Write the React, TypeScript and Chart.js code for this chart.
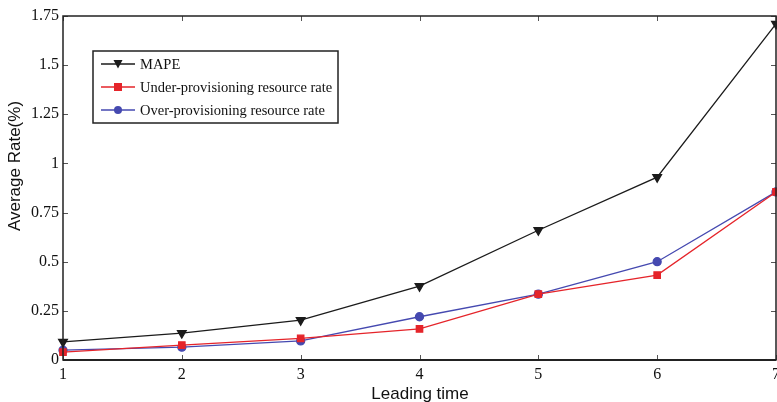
import React, { useEffect, useRef } from "react";
import { Chart, registerables } from "chart.js";

Chart.register(...registerables);

const leadingTimes = [1, 2, 3, 4, 5, 6, 7];
const mape = [0.092, 0.137, 0.203, 0.376, 0.66, 0.93, 1.71];
const underRate = [0.04, 0.076, 0.11, 0.158, 0.335, 0.432, 0.855];
const overRate = [0.05, 0.065, 0.097, 0.22, 0.335, 0.5, 0.855];
const yTicks = [0, 0.25, 0.5, 0.75, 1, 1.25, 1.5, 1.75];
const seriesNames = ["MAPE", "Under-provisioning resource rate", "Over-provisioning resource rate"];

const BLACK = "#1b1b1b";
const RED = "#e5242a";
const BLUE = "#4549b0";

const framePlugin = {
  id: "frame",
  afterDraw(chart: any) {
    const { ctx, chartArea: a, scales } = chart;
    const xs = scales.x;
    const ys = scales.y;
    ctx.save();
    // inward ticks
    ctx.strokeStyle = "#555";
    ctx.lineWidth = 1;
    const tl = 5;
    leadingTimes.forEach((v) => {
      const px = Math.round(xs.getPixelForValue(v)) + 0.5;
      ctx.beginPath();
      ctx.moveTo(px, a.bottom);
      ctx.lineTo(px, a.bottom - tl);
      ctx.moveTo(px, a.top);
      ctx.lineTo(px, a.top + tl);
      ctx.stroke();
    });
    yTicks.forEach((v) => {
      const py = Math.round(ys.getPixelForValue(v)) + 0.5;
      ctx.beginPath();
      ctx.moveTo(a.left, py);
      ctx.lineTo(a.left + tl, py);
      ctx.moveTo(a.right, py);
      ctx.lineTo(a.right - tl, py);
      ctx.stroke();
    });
    // frame
    ctx.strokeStyle = "#222";
    ctx.lineWidth = 1.5;
    ctx.strokeRect(a.left, a.top, a.right - a.left, a.bottom - a.top);
    ctx.lineWidth = 2.2;
    ctx.beginPath();
    ctx.moveTo(a.left, a.bottom);
    ctx.lineTo(a.right, a.bottom);
    ctx.stroke();

    // axis titles
    ctx.fillStyle = "#111";
    ctx.font = "17px 'Liberation Sans', Arial, sans-serif";
    ctx.textAlign = "center";
    ctx.textBaseline = "middle";
    ctx.fillText("Leading time", 420, 394);
    ctx.save();
    ctx.translate(15, 166);
    ctx.rotate(-Math.PI / 2);
    ctx.fillText("Average Rate(%)", 0, 0);
    ctx.restore();

    // legend
    const lx = 93, ly = 51, lw = 245, lh = 72;
    ctx.fillStyle = "#fff";
    ctx.fillRect(lx, ly, lw, lh);
    ctx.strokeStyle = "#222";
    ctx.lineWidth = 1.5;
    ctx.strokeRect(lx, ly, lw, lh);
    const colors = [BLACK, RED, BLUE];
    const rows = [64, 87, 110];
    chart.data.datasets.forEach((ds: any, i: number) => {
      const y = rows[i];
      ctx.strokeStyle = colors[i];
      ctx.lineWidth = 1.3;
      ctx.beginPath();
      ctx.moveTo(101, y);
      ctx.lineTo(135, y);
      ctx.stroke();
      ctx.fillStyle = colors[i];
      ctx.beginPath();
      if (i === 0) {
        ctx.moveTo(113.5, y - 4);
        ctx.lineTo(122.5, y - 4);
        ctx.lineTo(118, y + 4.5);
        ctx.closePath();
      } else if (i === 1) {
        ctx.rect(114, y - 4, 8, 8);
      } else {
        ctx.arc(118, y, 4, 0, Math.PI * 2);
      }
      ctx.fill();
      ctx.fillStyle = "#111";
      ctx.font = "14.5px 'Liberation Serif', 'Times New Roman', serif";
      ctx.textAlign = "left";
      ctx.textBaseline = "middle";
      ctx.fillText(ds.label, 140, y + 1);
    });
    ctx.restore();
  },
};

export default function App() {
  const ref = useRef<HTMLCanvasElement>(null);
  useEffect(() => {
    if (!ref.current) return;
    const mk = (arr: number[]) => leadingTimes.map((x, i) => ({ x, y: arr[i] }));
    const chart = new Chart(ref.current, {
      type: "line",
      data: {
        datasets: [
          {
            label: seriesNames[0],
            data: mk(mape),
            borderColor: BLACK,
            backgroundColor: BLACK,
            borderWidth: 1.3,
            pointStyle: "triangle",
            rotation: 180,
            pointRadius: 5,
            clip: false,
          },
          {
            label: seriesNames[1],
            data: mk(underRate),
            borderColor: RED,
            backgroundColor: RED,
            borderWidth: 1.3,
            pointStyle: "rect",
            pointRadius: 4.5,
            clip: false,
          },
          {
            label: seriesNames[2],
            data: mk(overRate),
            borderColor: BLUE,
            backgroundColor: BLUE,
            borderWidth: 1.3,
            pointStyle: "circle",
            pointRadius: 4,
            clip: false,
          },
        ] as any,
      },
      options: {
        responsive: false,
        animation: false,
        layout: { autoPadding: false, padding: { top: 16, right: 1, left: 0, bottom: 0 } },
        plugins: { legend: { display: false }, tooltip: { enabled: false } },
        scales: {
          x: {
            type: "linear",
            min: 1,
            max: 7,
            grid: { display: false, drawTicks: false, tickLength: 0 },
            border: { display: false },
            afterFit: (s: any) => {
              s.height = 42;
              s.paddingLeft = 0;
              s.paddingRight = 0;
            },
            afterBuildTicks: (s: any) => {
              s.ticks = leadingTimes.map((v) => ({ value: v }));
            },
            ticks: {
              padding: 5,
              color: "#111",
              font: { family: "'Liberation Serif', 'Times New Roman', serif", size: 16 },
              maxRotation: 0,
              autoSkip: false,
            },
          },
          y: {
            min: 0,
            max: 1.75,
            grid: { display: false, drawTicks: false, tickLength: 0 },
            border: { display: false },
            afterFit: (s: any) => {
              s.width = 63;
              s.paddingTop = 0;
              s.paddingBottom = 0;
            },
            afterBuildTicks: (s: any) => {
              s.ticks = yTicks.map((v) => ({ value: v }));
            },
            ticks: {
              padding: 4,
              color: "#111",
              font: { family: "'Liberation Serif', 'Times New Roman', serif", size: 16 },
              callback: (v: any) => String(v),
            },
          },
        },
      },
      plugins: [framePlugin],
    });
    return () => chart.destroy();
  }, []);
  return (
    <div style={{ position: "fixed", left: 0, top: 0, width: 777, height: 402, background: "#fff" }}>
      <canvas ref={ref} width={777} height={402} />
    </div>
  );
}
